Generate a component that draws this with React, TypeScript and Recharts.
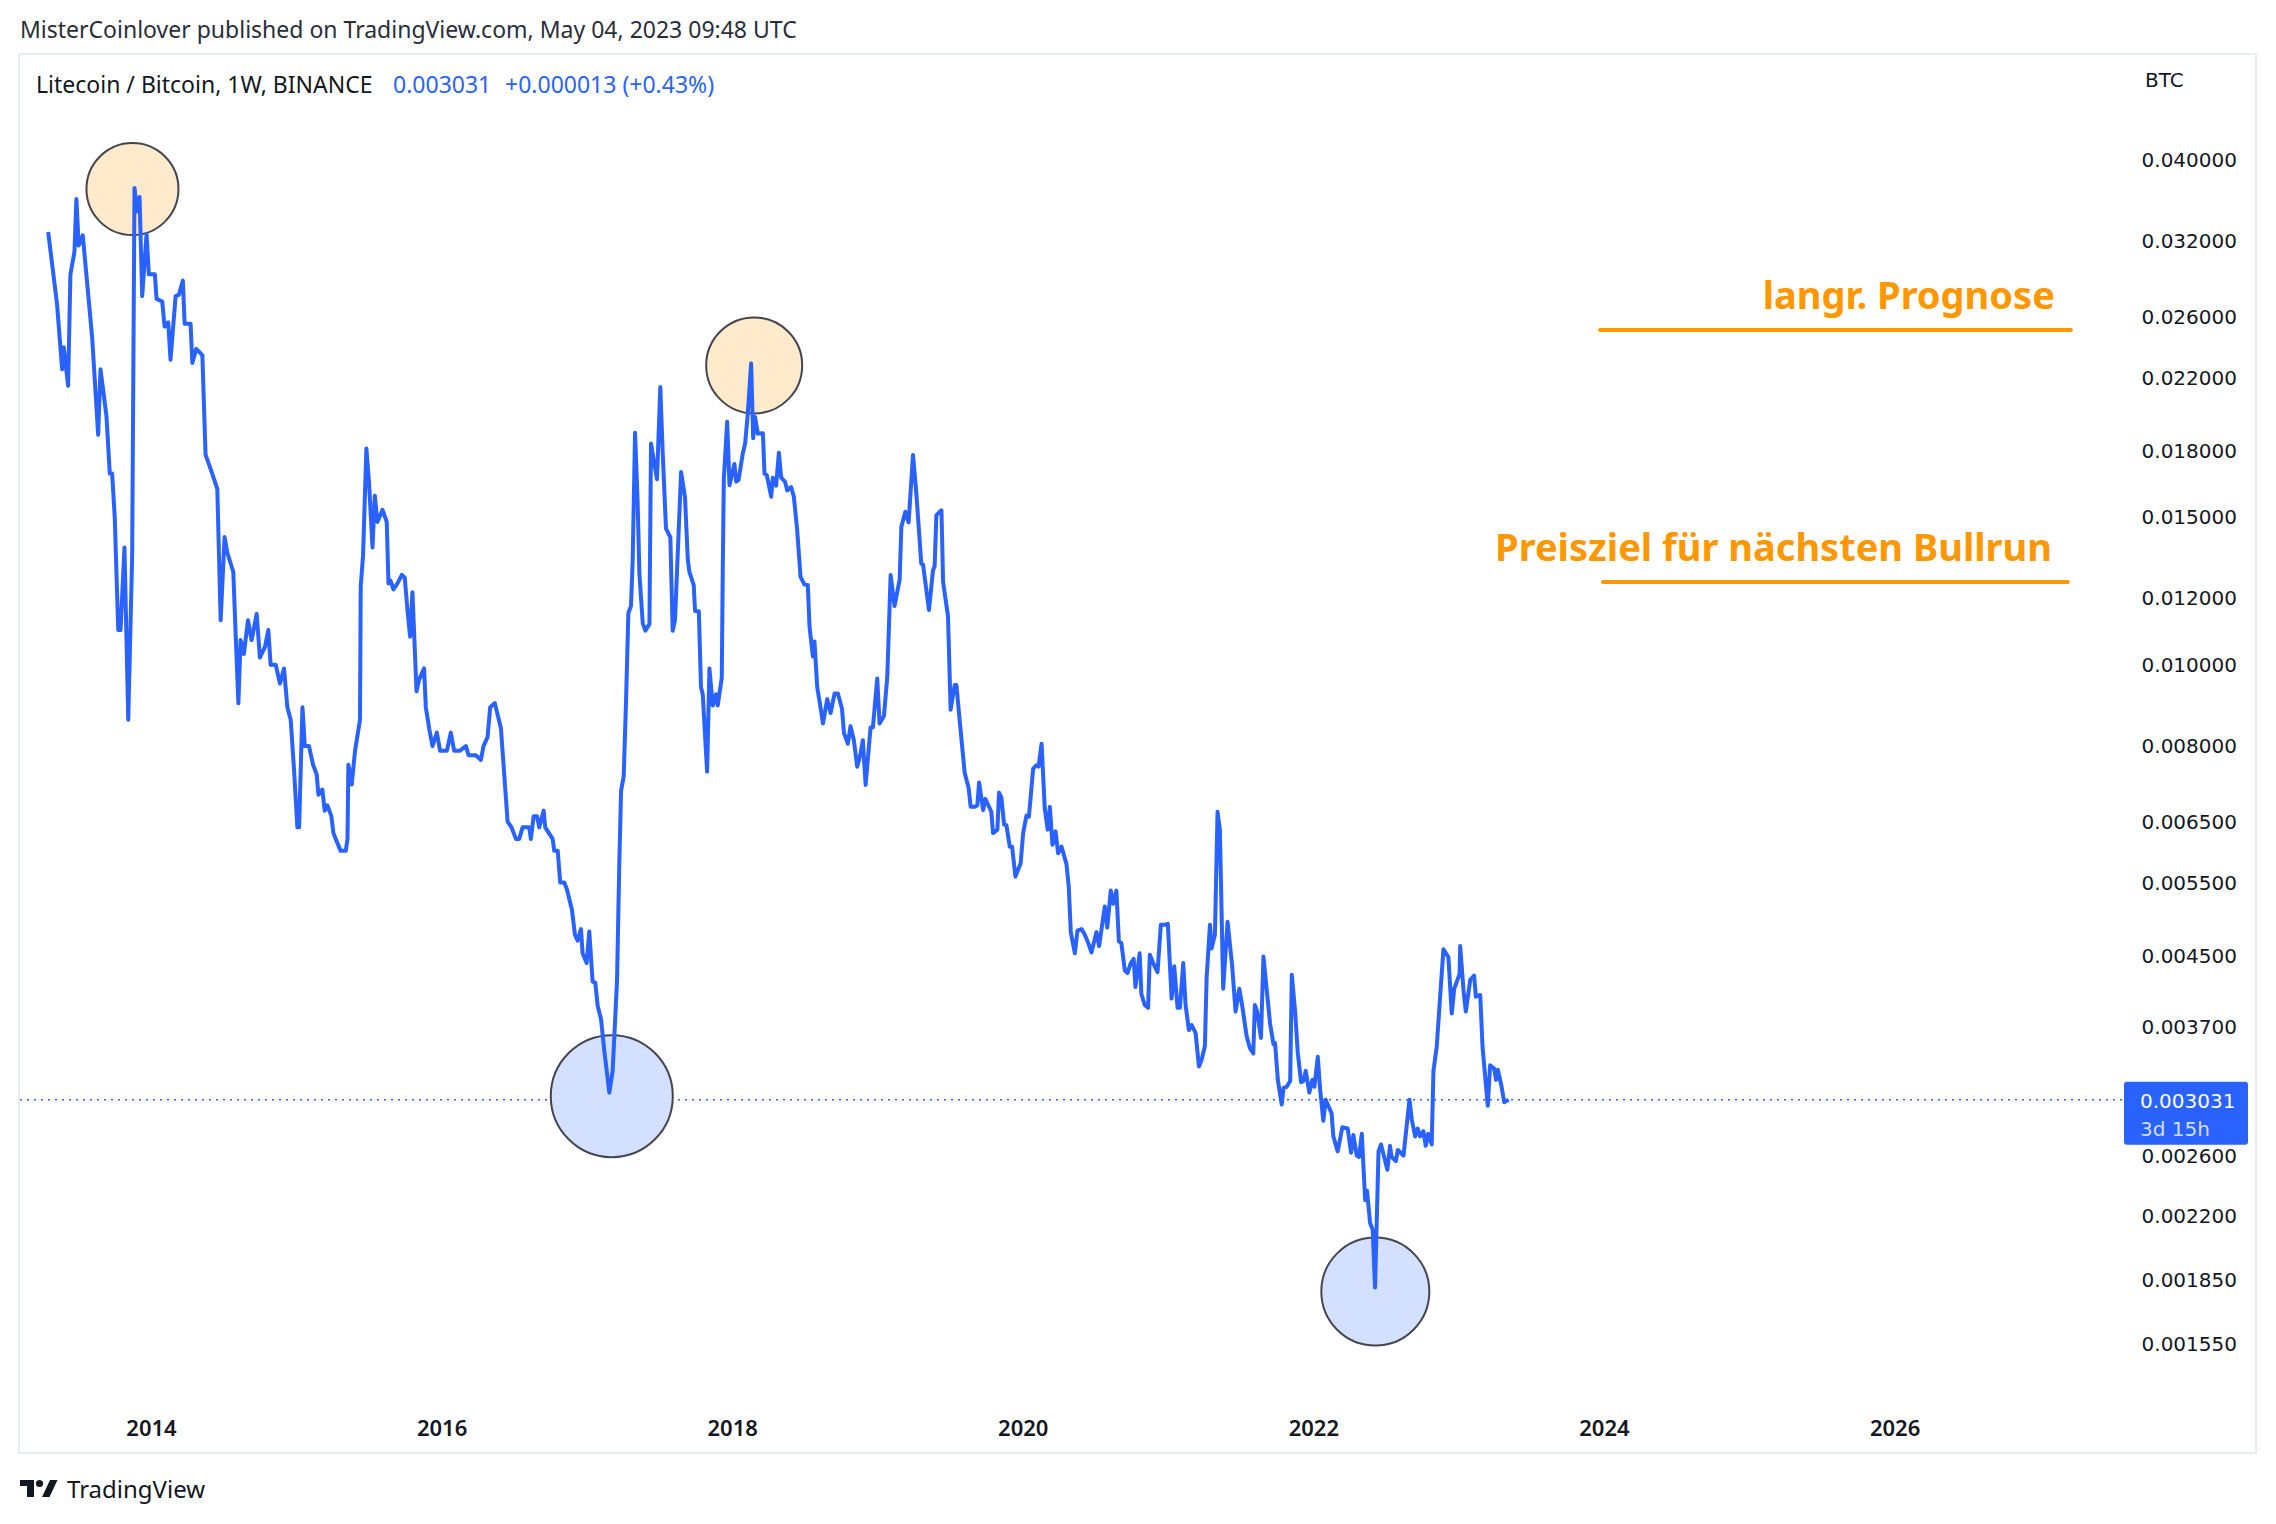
import React from "react";
import { ComposedChart, Line, Scatter, XAxis, YAxis, ReferenceLine } from "recharts";

// LTC/BTC weekly closes (decimal year, price in BTC)
const WEEK = [
  2013.289, 2013.35, 2013.385, 2013.396, 2013.426, 2013.442, 2013.47, 2013.483, 2013.499, 2013.527,
  2013.592, 2013.633, 2013.649, 2013.69, 2013.713, 2013.729, 2013.747, 2013.771, 2013.787, 2013.814,
  2013.84, 2013.867, 2013.883, 2013.902, 2013.918, 2013.936, 2013.966, 2013.982, 2014.023, 2014.035,
  2014.074, 2014.09, 2014.115, 2014.131, 2014.166, 2014.188, 2014.216, 2014.228, 2014.269, 2014.281,
  2014.308, 2014.35, 2014.372, 2014.418, 2014.453, 2014.476, 2014.503, 2014.522, 2014.563, 2014.579,
  2014.598, 2014.613, 2014.636, 2014.664, 2014.689, 2014.724, 2014.746, 2014.781, 2014.804, 2014.82,
  2014.855, 2014.884, 2014.912, 2014.935, 2014.958, 2014.981, 2015.004, 2015.016, 2015.039, 2015.055,
  2015.084, 2015.112, 2015.137, 2015.149, 2015.176, 2015.192, 2015.21, 2015.238, 2015.252, 2015.268,
  2015.302, 2015.337, 2015.349, 2015.355, 2015.378, 2015.401, 2015.435, 2015.44, 2015.456, 2015.479,
  2015.497, 2015.521, 2015.537, 2015.555, 2015.59, 2015.619, 2015.631, 2015.645, 2015.665, 2015.693,
  2015.723, 2015.743, 2015.762, 2015.78, 2015.796, 2015.824, 2015.842, 2015.876, 2015.888, 2015.911,
  2015.934, 2015.964, 2015.986, 2016.033, 2016.06, 2016.083, 2016.124, 2016.164, 2016.182, 2016.232,
  2016.267, 2016.285, 2016.313, 2016.331, 2016.363, 2016.405, 2016.451, 2016.478, 2016.508, 2016.531,
  2016.554, 2016.577, 2016.6, 2016.611, 2016.63, 2016.653, 2016.669, 2016.699, 2016.71, 2016.761,
  2016.772, 2016.796, 2016.813, 2016.841, 2016.859, 2016.894, 2016.914, 2016.933, 2016.956, 2016.967,
  2016.995, 2017.013, 2017.036, 2017.054, 2017.071, 2017.094, 2017.116, 2017.151, 2017.174, 2017.204,
  2017.22, 2017.232, 2017.25, 2017.266, 2017.282, 2017.3, 2017.312, 2017.328, 2017.346, 2017.358,
  2017.381, 2017.399, 2017.427, 2017.438, 2017.457, 2017.479, 2017.502, 2017.518, 2017.541, 2017.571,
  2017.587, 2017.603, 2017.645, 2017.672, 2017.691, 2017.702, 2017.732, 2017.741, 2017.767, 2017.782,
  2017.794, 2017.824, 2017.84, 2017.863, 2017.886, 2017.897, 2017.925, 2017.932, 2017.939, 2017.962,
  2017.978, 2018.012, 2018.024, 2018.04, 2018.07, 2018.086, 2018.104, 2018.127, 2018.141, 2018.154,
  2018.173, 2018.208, 2018.219, 2018.235, 2018.265, 2018.276, 2018.299, 2018.318, 2018.334, 2018.361,
  2018.375, 2018.403, 2018.421, 2018.444, 2018.467, 2018.494, 2018.517, 2018.529, 2018.552, 2018.563,
  2018.582, 2018.609, 2018.621, 2018.651, 2018.674, 2018.701, 2018.724, 2018.752, 2018.766, 2018.793,
  2018.811, 2018.834, 2018.857, 2018.88, 2018.896, 2018.915, 2018.949, 2018.965, 2018.995, 2019.011,
  2019.041, 2019.064, 2019.087, 2019.114, 2019.149, 2019.161, 2019.188, 2019.211, 2019.241, 2019.264,
  2019.298, 2019.31, 2019.351, 2019.379, 2019.39, 2019.402, 2019.437, 2019.448, 2019.482, 2019.5,
  2019.528, 2019.54, 2019.562, 2019.586, 2019.597, 2019.624, 2019.638, 2019.666, 2019.684, 2019.696,
  2019.724, 2019.739, 2019.78, 2019.792, 2019.822, 2019.833, 2019.849, 2019.868, 2019.884, 2019.907,
  2019.923, 2019.946, 2019.982, 2019.999, 2020.022, 2020.039, 2020.068, 2020.091, 2020.105, 2020.126,
  2020.148, 2020.168, 2020.183, 2020.201, 2020.222, 2020.24, 2020.263, 2020.297, 2020.313, 2020.327,
  2020.355, 2020.373, 2020.401, 2020.423, 2020.447, 2020.469, 2020.504, 2020.522, 2020.561, 2020.578,
  2020.602, 2020.619, 2020.641, 2020.658, 2020.675, 2020.699, 2020.717, 2020.74, 2020.76, 2020.772,
  2020.801, 2020.813, 2020.836, 2020.859, 2020.871, 2020.894, 2020.924, 2020.947, 2020.979, 2020.995,
  2021.021, 2021.039, 2021.062, 2021.078, 2021.101, 2021.117, 2021.14, 2021.158, 2021.186, 2021.209,
  2021.227, 2021.25, 2021.262, 2021.285, 2021.296, 2021.319, 2021.337, 2021.353, 2021.376, 2021.406,
  2021.438, 2021.461, 2021.487, 2021.509, 2021.537, 2021.56, 2021.583, 2021.594, 2021.61, 2021.636,
  2021.653, 2021.676, 2021.699, 2021.722, 2021.733, 2021.752, 2021.779, 2021.791, 2021.813, 2021.837,
  2021.848, 2021.871, 2021.889, 2021.912, 2021.928, 2021.944, 2021.969, 2021.99, 2022.004, 2022.027,
  2022.043, 2022.065, 2022.081, 2022.122, 2022.134, 2022.164, 2022.196, 2022.233, 2022.256, 2022.272,
  2022.295, 2022.311, 2022.33, 2022.353, 2022.366, 2022.387, 2022.405, 2022.421, 2022.445, 2022.462,
  2022.486, 2022.506, 2022.524, 2022.535, 2022.564, 2022.578, 2022.617, 2022.658, 2022.674, 2022.697,
  2022.715, 2022.731, 2022.754, 2022.77, 2022.787, 2022.811, 2022.823, 2022.846, 2022.868, 2022.892,
  2022.926, 2022.949, 2022.966, 2023.003, 2023.007, 2023.03, 2023.046, 2023.076, 2023.103, 2023.115,
  2023.145, 2023.161, 2023.197, 2023.213, 2023.241, 2023.254, 2023.266, 2023.289, 2023.31, 2023.34,
];

const LTC_BTC = [
  0.0328, 0.0269, 0.0225, 0.0239, 0.0215, 0.0292, 0.0311, 0.0359, 0.0316, 0.0325,
  0.0245, 0.0188, 0.0225, 0.0198, 0.0169, 0.0169, 0.015, 0.011, 0.011, 0.0138,
  0.0086, 0.0135, 0.037, 0.0347, 0.0361, 0.0275, 0.0326, 0.0292, 0.0292, 0.0273,
  0.0271, 0.0253, 0.0256, 0.0231, 0.0275, 0.0276, 0.0287, 0.0255, 0.0255, 0.0229,
  0.0238, 0.0234, 0.0178, 0.0169, 0.0162, 0.0113, 0.0142, 0.0136, 0.0129, 0.0109,
  0.009, 0.0107, 0.0103, 0.0113, 0.0107, 0.0115, 0.0102, 0.0105, 0.011, 0.01,
  0.01, 0.0095, 0.0099, 0.0089, 0.0086, 0.0075, 0.0064, 0.0064, 0.0089, 0.008,
  0.008, 0.0076, 0.0074, 0.007, 0.0071, 0.0067, 0.0068, 0.0066, 0.0063, 0.0062,
  0.006, 0.006, 0.0062, 0.0076, 0.0072, 0.0079, 0.0086, 0.0124, 0.0135, 0.0181,
  0.0165, 0.0138, 0.0159, 0.0148, 0.0153, 0.0148, 0.0125, 0.0126, 0.0123, 0.0125,
  0.0128, 0.0127, 0.0116, 0.0108, 0.0122, 0.0093, 0.0096, 0.0099, 0.0089, 0.0084,
  0.008, 0.0083, 0.0079, 0.0079, 0.0083, 0.0079, 0.0079, 0.008, 0.0078, 0.0078,
  0.0077, 0.008, 0.0082, 0.0089, 0.009, 0.0084, 0.0065, 0.0064, 0.0062, 0.0062,
  0.0064, 0.0064, 0.0064, 0.0062, 0.0066, 0.0066, 0.0064, 0.0067, 0.0064, 0.0062,
  0.006, 0.006, 0.0055, 0.0055, 0.0054, 0.0051, 0.00477, 0.00469, 0.00484, 0.00453,
  0.00441, 0.00481, 0.00419, 0.00418, 0.00392, 0.00378, 0.00347, 0.00309, 0.00328, 0.0042,
  0.00583, 0.00708, 0.00736, 0.00905, 0.01152, 0.01175, 0.01336, 0.0189, 0.01562, 0.01284,
  0.01121, 0.01098, 0.01118, 0.01835, 0.01753, 0.01664, 0.02143, 0.01796, 0.01453, 0.01419,
  0.01098, 0.0113, 0.01697, 0.01582, 0.01336, 0.0129, 0.01244, 0.01159, 0.01158, 0.0094,
  0.00922, 0.00746, 0.0099, 0.00894, 0.00922, 0.00894, 0.00965, 0.0131, 0.01664, 0.01948,
  0.01637, 0.01735, 0.01653, 0.0166, 0.01787, 0.01836, 0.01994, 0.02287, 0.01862, 0.01974,
  0.01886, 0.01888, 0.0169, 0.01683, 0.01586, 0.01671, 0.01635, 0.0179, 0.01671, 0.01652,
  0.01614, 0.01628, 0.01586, 0.01447, 0.01273, 0.01246, 0.01245, 0.0111, 0.01023, 0.01066,
  0.0094, 0.0088, 0.00851, 0.0091, 0.00876, 0.00924, 0.00924, 0.00887, 0.00829, 0.00805,
  0.00845, 0.00813, 0.00756, 0.00783, 0.00813, 0.00719, 0.00842, 0.00842, 0.00963, 0.00851,
  0.00869, 0.00967, 0.01279, 0.01175, 0.01262, 0.01461, 0.01522, 0.01478, 0.01779, 0.01601,
  0.0132, 0.01317, 0.01162, 0.01297, 0.0131, 0.01508, 0.01528, 0.01256, 0.01142, 0.00884,
  0.00946, 0.00946, 0.00859, 0.00777, 0.00743, 0.00713, 0.00677, 0.00677, 0.0068, 0.00724,
  0.00671, 0.00692, 0.00668, 0.0063, 0.00636, 0.00704, 0.00695, 0.00645, 0.00644, 0.00607,
  0.00607, 0.00559, 0.0058, 0.0063, 0.00661, 0.00659, 0.00752, 0.00759, 0.00756, 0.00805,
  0.00674, 0.00636, 0.00677, 0.0061, 0.00633, 0.00596, 0.00607, 0.00579, 0.00544, 0.0048,
  0.00453, 0.00482, 0.00484, 0.00477, 0.00466, 0.00454, 0.0048, 0.00462, 0.00515, 0.00486,
  0.00538, 0.00519, 0.00538, 0.00468, 0.00466, 0.00432, 0.00429, 0.00441, 0.00446, 0.00413,
  0.00453, 0.00405, 0.00393, 0.0039, 0.00451, 0.00441, 0.0043, 0.0049, 0.0049, 0.00491,
  0.004, 0.00437, 0.0039, 0.0039, 0.00441, 0.00393, 0.00367, 0.00372, 0.00364, 0.00332,
  0.00338, 0.00351, 0.00424, 0.0049, 0.00459, 0.00477, 0.00668, 0.00636, 0.00411, 0.00494,
  0.00437, 0.00386, 0.00411, 0.0039, 0.00361, 0.00349, 0.00344, 0.00393, 0.00386, 0.00359,
  0.00449, 0.00409, 0.00373, 0.00353, 0.00354, 0.0032, 0.00299, 0.00313, 0.00314, 0.00319,
  0.00427, 0.00386, 0.00345, 0.00318, 0.00319, 0.00328, 0.00309, 0.0032, 0.00314, 0.00341,
  0.00312, 0.00286, 0.00303, 0.00292, 0.00274, 0.00263, 0.00281, 0.0028, 0.00262, 0.00275,
  0.0026, 0.00259, 0.00276, 0.0023, 0.00236, 0.00216, 0.00212, 0.00181, 0.00263, 0.00268,
  0.00258, 0.0025, 0.00267, 0.00259, 0.00256, 0.00264, 0.0026, 0.00303, 0.00287, 0.00274,
  0.0028, 0.00274, 0.00278, 0.00267, 0.00276, 0.00268, 0.00328, 0.00351, 0.004, 0.00458,
  0.00448, 0.00384, 0.00411, 0.00428, 0.00462, 0.00409, 0.00386, 0.00421, 0.00426, 0.00402,
  0.00404, 0.0035, 0.00298, 0.00333, 0.0033, 0.0032, 0.00329, 0.00316, 0.00301, 0.003031,
];

const YEAR_TICKS = [2014, 2016, 2018, 2020, 2022, 2024, 2026];
const PRICE_TICKS = [
  0.04, 0.032, 0.026, 0.022, 0.018, 0.015, 0.012, 0.01, 0.008,
  0.0065, 0.0055, 0.0045, 0.0037, 0.0026, 0.0022, 0.00185, 0.00155,
];
const LAST_PRICE = 0.003031;
const LAST_CHANGE = "+0.000013 (+0.43%)";
const COUNTDOWN = "3d 15h";

// drawings on the chart: circled tops and bottoms, target lines on the right
const TOPS = [
  { t: 2013.869, v: 0.0369, r: 46 },
  { t: 2018.148, v: 0.02274, r: 48 },
];
const BOTTOMS = [
  { t: 2017.168, v: 0.00306, r: 61 },
  { t: 2022.423, v: 0.00179, r: 54 },
];
const TARGETS = [
  { label: "langr. Prognose", v: 0.02507, from: 2023.97, to: 2027.21 },
  { label: "Preisziel für nächsten Bullrun", v: 0.01255, from: 2023.99, to: 2027.19 },
];

const X_DOMAIN = [2013.095, 2027.562];
const Y_DOMAIN = [0.0013254, 0.053318];

const W = 2276;
const H = 1524;
const MARGIN = { top: 55, right: 20, bottom: 71, left: 20 };
const INK = "#131722";
const BLUE = "#2962FF";
const ORANGE = "#FF9800";

const data = WEEK.map((t, i) => ({ t, v: LTC_BTC[i] }));

const PriceTick = ({ x, y, payload }: any) => (
  <text x={x + 115} y={y} textAnchor="end" dominantBaseline="central" fontFamily="DejaVu Sans" fontSize={20} fill={INK}>
    {Number(payload.value).toFixed(6)}
  </text>
);

const YearTick = ({ x, y, payload }: any) => (
  <text x={x} y={y + 26} textAnchor="middle" dominantBaseline="central" fontFamily="Noto Sans" fontWeight={600} fontSize={22} fill={INK}>
    {payload.value}
  </text>
);

const PriceTag = ({ viewBox }: any) => {
  const x = viewBox.x + viewBox.width + 2;
  const y = viewBox.y;
  return (
    <g>
      <rect x={x} y={y - 18} width={124} height={63} rx={3} fill={BLUE} />
      <text x={x + 16} y={y + 1} dominantBaseline="central" fontFamily="DejaVu Sans" fontSize={20} fill="#FFFFFF">
        {LAST_PRICE.toFixed(6)}
      </text>
      <text x={x + 16} y={y + 29} dominantBaseline="central" fontFamily="DejaVu Sans" fontSize={20} fill="#D3DEFF">
        {COUNTDOWN}
      </text>
    </g>
  );
};

const TargetLabel = ({ viewBox, text }: any) => (
  <text
    x={viewBox.x + viewBox.width - 16}
    y={viewBox.y - 36}
    textAnchor="end"
    dominantBaseline="central"
    fontFamily="Noto Sans"
    fontWeight={700}
    fontSize={38}
    fill={ORANGE}
  >
    {text}
  </text>
);

const ringShape = (fill: string) => (p: any) => (
  <circle cx={p.cx} cy={p.cy} r={p.payload.r} fill={fill} stroke="#434651" strokeWidth={2} />
);

// both layers share these axes so their scales line up exactly
const axes = (withTicks: boolean) => [
  <XAxis
    key="x"
    dataKey="t"
    type="number"
    domain={X_DOMAIN}
    allowDataOverflow
    ticks={YEAR_TICKS}
    interval={0}
    axisLine={false}
    tickLine={false}
    tickSize={0}
    tickMargin={0}
    height={52}
    tick={withTicks ? <YearTick /> : false}
  />,
  <YAxis
    key="y"
    orientation="right"
    type="number"
    scale="log"
    domain={Y_DOMAIN}
    allowDataOverflow
    ticks={PRICE_TICKS}
    interval={0}
    axisLine={false}
    tickLine={false}
    tickSize={0}
    tickMargin={0}
    width={134}
    tick={withTicks ? <PriceTick /> : false}
  />,
];

export default function App() {
  return (
    <div style={{ position: "absolute", left: 0, top: 0, width: W, height: H, background: "#FFFFFF" }}>
      <svg width={W} height={H} style={{ position: "absolute", left: 0, top: 0 }}>
        <rect x={19} y={54} width={2237} height={1399} fill="#FFFFFF" stroke="#E8EBF0" strokeWidth={2} />
        <text x={20} y={29} dominantBaseline="central" fontFamily="Noto Sans" fontSize={23} fill="#2A2E39">
          MisterCoinlover published on TradingView.com, May 04, 2023 09:48 UTC
        </text>
        <text x={36} y={84} dominantBaseline="central" fontFamily="Noto Sans" fontSize={23} fill={INK}>
          Litecoin / Bitcoin, 1W, BINANCE
        </text>
        <text x={393} y={84} dominantBaseline="central" fontFamily="Noto Sans" fontSize={23} fill={BLUE}>
          {LAST_PRICE.toFixed(6)}
        </text>
        <text x={505} y={84} dominantBaseline="central" fontFamily="Noto Sans" fontSize={23} fill={BLUE}>
          {LAST_CHANGE}
        </text>
        <text x={2145} y={80} dominantBaseline="central" fontFamily="DejaVu Sans" fontSize={20} fill={INK}>
          BTC
        </text>
        <g fill={INK}>
          <path d="M20 1480 H34 V1497 H27 V1486 H20 Z" />
          <circle cx={39.5} cy={1483.5} r={3.6} />
          <path d="M42 1497 H49.5 L57.5 1480 H50 Z" />
        </g>
        <text x={67} y={1488} dominantBaseline="central" fontFamily="Noto Sans" fontSize={24} fill={INK}>
          TradingView
        </text>
      </svg>

      {/* lower layer: axes, last price line, circles */}
      <div style={{ position: "absolute", left: 0, top: 0 }}>
        <ComposedChart width={W} height={H} data={data} margin={MARGIN}>
          {axes(true)}
          <ReferenceLine y={LAST_PRICE} stroke={BLUE} strokeWidth={1.5} strokeDasharray="2 5" label={<PriceTag />} />
          <Scatter data={TOPS} dataKey="v" shape={ringShape("#FFEACC")} isAnimationActive={false} />
          <Scatter data={BOTTOMS} dataKey="v" shape={ringShape("#D4E0FF")} isAnimationActive={false} />
        </ComposedChart>
      </div>

      {/* upper layer: the price line and the target lines */}
      <div style={{ position: "absolute", left: 0, top: 0 }}>
        <ComposedChart width={W} height={H} data={data} margin={MARGIN}>
          {axes(false)}
          <Line type="linear" dataKey="v" stroke={BLUE} strokeWidth={4} strokeLinejoin="round" dot={false} isAnimationActive={false} />
          {TARGETS.map((g, i) => (
            <ReferenceLine
              key={`target-${i}`}
              segment={[
                { x: g.from, y: g.v },
                { x: g.to, y: g.v },
              ]}
              stroke={ORANGE}
              strokeWidth={4}
              strokeLinecap="round"
              label={<TargetLabel text={g.label} />}
            />
          ))}
        </ComposedChart>
      </div>
    </div>
  );
}
